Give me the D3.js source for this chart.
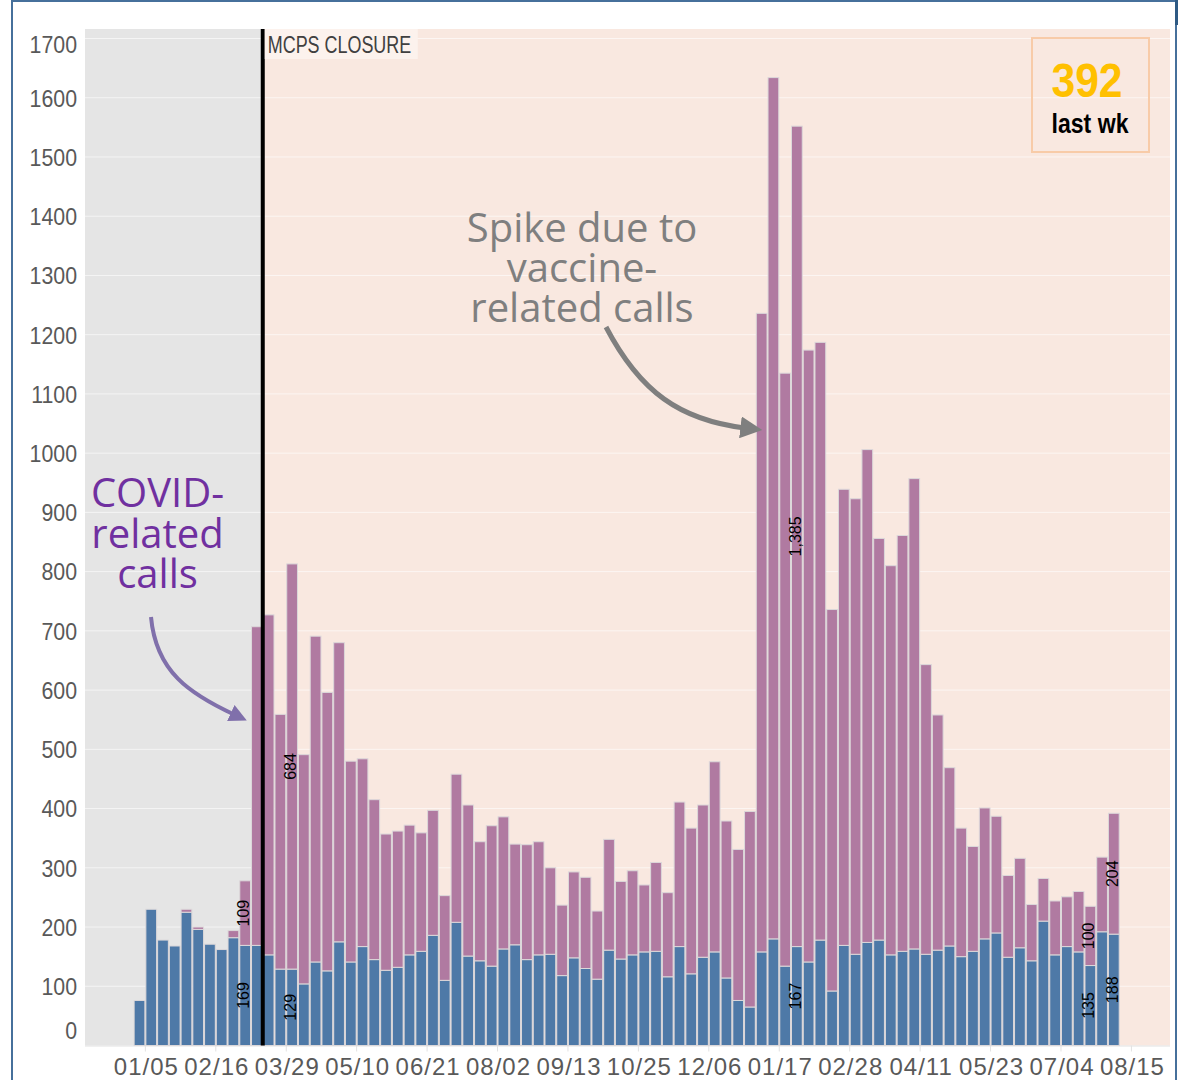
<!DOCTYPE html>
<head>
	<meta charset="utf-8">
	<title>Weekly calls</title>
	<script src="https://cdn.jsdelivr.net/npm/d3@7"></script>
	<style>
		body { margin: 0; background: #fff; }
		svg text { font-family: 'Liberation Sans', Arial, sans-serif; }
		.ylab { fill: #595959; font-size: 24.5px; }
		.xlab { fill: #595959; font-size: 24px; letter-spacing: 1px; }
		.seg { stroke: #dcd8da; stroke-width: 1px; }
		.val { font-size: 16px; fill: #000; }
		.note { font-family: 'Open Sans', sans-serif !important; font-size: 40px; }
	</style>
</head>
<body>
	<script>
		// weekly data, first week starts Sun 12/29/2019
		var firstWeek = new Date(2019, 11, 29);
		var otherCalls = [76, 230, 178, 168, 225, 196, 171, 162, 182, 169,
			169, 153, 129, 129, 104, 141, 126, 175, 141, 167,
			145, 127, 132, 153, 159, 186, 110, 208, 151, 143,
			134, 163, 170, 145, 153, 154, 118, 148, 130, 112,
			161, 146, 153, 158, 159, 116, 167, 121, 149, 158,
			114, 76, 65, 158, 180, 134, 167, 141, 178, 92,
			169, 154, 174, 178, 153, 159, 163, 154, 161, 168,
			150, 159, 180, 190, 149, 165, 143, 210, 153, 167,
			158, 135, 192, 188];
		var covidCalls = [0, 0, 0, 0, 5, 4, 0, 0, 12, 109,
			538, 574, 430, 684, 387, 550, 470, 505, 339, 317,
			270, 230, 230, 219, 200, 211, 143, 250, 255, 201,
			237, 223, 170, 194, 191, 146, 119, 145, 154, 115,
			187, 131, 142, 113, 150, 142, 244, 246, 257, 321,
			265, 255, 330, 1078, 1454, 1001, 1385, 1033, 1009, 644,
			770, 769, 832, 678, 657, 702, 794, 489, 397, 301,
			217, 177, 221, 197, 138, 151, 95, 72, 91, 84,
			102, 100, 126, 204];
		var labelledWeeks = [9, 13, 56, 81, 83];
		var yTicks = [0, 100, 200, 300, 400, 500, 600, 700, 800, 900,
			1000, 1100, 1200, 1300, 1400, 1500, 1600, 1700];
		var xTickFirst = new Date(2020, 0, 5);
		var xTickCount = 15;
		var closureDate = new Date(2020, 2, 15);
		var lastWeekTotal = 392;

		var width = 1189, height = 1080;
		var pLeft = 85, pRight = 1170, pTop = 29, pBottom = 1045.5;

		var svg = d3.select("body").append("svg")
			.attr("width", width)
			.attr("height", height);

		var weeks = d3.range(otherCalls.length).map(function(i) { return d3.timeWeek.offset(firstWeek, i); });
		var rows = weeks.map(function(w, i) { return {week: w, other: otherCalls[i], covid: covidCalls[i], i: i}; });
		var xTicks = d3.range(xTickCount).map(function(i) { return d3.timeDay.offset(xTickFirst, 42 * i); });

		var x = d3.scaleTime()
			.domain([new Date(2019, 10, 30), new Date(2021, 8, 7)])
			.range([pLeft, pRight]);
		var y = d3.scaleLinear()
			.domain([0, 1700])
			.range([pBottom, 38.5]);

		// outer frame
		svg.append("rect").attr("x", 12).attr("y", 1).attr("width", 1164).attr("height", 1100)
			.attr("fill", "#fff").attr("stroke", "#46709b").attr("stroke-width", 2);
		svg.append("rect").attr("x", 1175).attr("y", 0).attr("width", 3).attr("height", 25).attr("fill", "#2e5a84");

		// backgrounds
		var xc = x(closureDate);
		svg.append("rect").attr("x", pLeft).attr("y", pTop)
			.attr("width", xc - pLeft).attr("height", pBottom - pTop).attr("fill", "#e5e5e5");
		svg.append("rect").attr("x", xc).attr("y", pTop)
			.attr("width", pRight - xc).attr("height", pBottom - pTop).attr("fill", "#f9e8e0");

		// grid
		svg.append("g").selectAll("line").data(yTicks.slice(1)).enter().append("line")
			.attr("x1", pLeft).attr("x2", pRight)
			.attr("y1", function(d) { return y(d); }).attr("y2", function(d) { return y(d); })
			.attr("stroke", "#fff").attr("stroke-opacity", 0.6).attr("stroke-width", 1);

		// y labels (squeezed a bit, the original font is narrow)
		svg.append("g").selectAll("text").data(yTicks).enter().append("text")
			.attr("class", "ylab")
			.attr("transform", function(d) {
				return "translate(77," + Math.max(44, Math.min(1030, y(d))) + ") scale(0.87,1)";
			})
			.attr("dy", "0.36em")
			.attr("text-anchor", "end")
			.text(function(d) { return d; });

		// x axis
		svg.append("line").attr("x1", pLeft).attr("x2", pRight).attr("y1", pBottom + 0.5).attr("y2", pBottom + 0.5)
			.attr("stroke", "#e2e2e2");
		var xt = svg.append("g").selectAll("g").data(xTicks).enter().append("g")
			.attr("transform", function(d) { return "translate(" + x(d) + ",0)"; });
		xt.append("line").attr("y1", pBottom).attr("y2", pBottom + 6).attr("stroke", "#e2e2e2");
		xt.append("text").attr("class", "xlab")
			.attr("y", 1075).attr("x", 1)
			.attr("text-anchor", "middle")
			.text(d3.timeFormat("%m/%d"));

		// stacked bars
		var stack = d3.stack().keys(["other", "covid"])(rows);
		var colors = {other: "#4e79a7", covid: "#b07aa1"};
		var bw = function(d) { return x(d3.timeDay.offset(d.data.week, 7)) - x(d.data.week); };
		svg.append("g").selectAll("g").data(stack).enter().append("g")
			.attr("fill", function(s) { return colors[s.key]; })
			.selectAll("rect").data(function(s) { return s.filter(function(d) { return d[1] > d[0]; }); })
			.enter().append("rect")
				.attr("class", "seg")
				.attr("x", function(d) { return x(d.data.week) + 0.5; })
				.attr("width", function(d) { return bw(d) - 1; })
				.attr("y", function(d) { return y(d[1]); })
				.attr("height", function(d) { return y(d[0]) - y(d[1]); });

		// value labels
		var fmt = d3.format(",");
		stack.forEach(function(s) {
			svg.append("g").selectAll("text")
				.data(s.filter(function(d) { return labelledWeeks.indexOf(d.data.i) >= 0; }))
				.enter().append("text")
					.attr("class", "val")
					.attr("transform", function(d) {
						var cx = x(d.data.week) + bw(d) / 2 - 1.5;
						var cy = (y(d[0]) + y(d[1])) / 2;
						return "translate(" + cx + "," + cy + ") rotate(-90)";
					})
					.attr("text-anchor", "middle")
					.attr("dy", "0.35em")
					.text(function(d) { return fmt(d[1] - d[0]); });
		});

		// closure line + label
		svg.append("line")
			.attr("x1", xc).attr("x2", xc)
			.attr("y1", pTop).attr("y2", pBottom)
			.attr("stroke", "#000").attr("stroke-width", 4);
		svg.append("rect").attr("x", xc + 2).attr("y", pTop)
			.attr("width", 153).attr("height", 30).attr("fill", "#fcf2ed");
		svg.append("text").attr("transform", "translate(" + (xc + 5) + ",53) scale(0.78,1)")
			.attr("fill", "#404040").style("font-size", "23px")
			.text("MCPS CLOSURE");

		// last week box
		svg.append("rect").attr("x", 1032).attr("y", 38).attr("width", 117).attr("height", 114)
			.attr("fill", "none").attr("stroke", "#f8cba8").attr("stroke-width", 2);
		svg.append("text").attr("transform", "translate(1087,96.5) scale(0.87,1)").attr("text-anchor", "middle")
			.attr("fill", "#ffc000").style("font-size", "49px").style("font-weight", "bold")
			.text(lastWeekTotal);
		svg.append("text").attr("transform", "translate(1090,133) scale(0.855,1)").attr("text-anchor", "middle")
			.attr("fill", "#000").style("font-size", "27px").style("font-weight", "bold")
			.text("last wk");

		// annotations
		var defs = svg.append("defs");
		function marker(id, col) {
			defs.append("marker").attr("id", id)
				.attr("viewBox", "0 0 10 10").attr("refX", 2).attr("refY", 5)
				.attr("markerWidth", 4.4).attr("markerHeight", 4.4)
				.attr("orient", "auto")
				.append("path").attr("d", "M0,0L10,5L0,10z").attr("fill", col);
		}
		marker("arrP", "#8070ab");
		marker("arrG", "#7f7f7f");

		var covNote = svg.append("text").attr("class", "note").attr("fill", "#7030a0").attr("text-anchor", "middle");
		["COVID-", "related", "calls"].forEach(function(t, i) {
			covNote.append("tspan").attr("x", 157.5).attr("y", 507 + 40.5 * i).text(t);
		});
		var spikeNote = svg.append("text").attr("class", "note").attr("fill", "#7f7f7f").attr("text-anchor", "middle");
		["Spike due to", "vaccine-", "related calls"].forEach(function(t, i) {
			spikeNote.append("tspan").attr("x", 582).attr("y", 242 + 40 * i).text(t);
		});

		var tipP = [x(weeks[10]) - 10, y(552)];
		svg.append("path")
			.attr("d", "M151,617C156,672 190,694 " + (tipP[0] - 7) + "," + (tipP[1] - 4))
			.attr("fill", "none").attr("stroke", "#8070ab").attr("stroke-width", 4)
			.attr("marker-end", "url(#arrP)");
		var tipG = [x(weeks[53]) - 3, y(1040)];
		svg.append("path")
			.attr("d", "M606,327C640,392 680,420 " + (tipG[0] - 8) + "," + (tipG[1] - 1.5))
			.attr("fill", "none").attr("stroke", "#7f7f7f").attr("stroke-width", 5)
			.attr("marker-end", "url(#arrG)");
	</script>
</body>
